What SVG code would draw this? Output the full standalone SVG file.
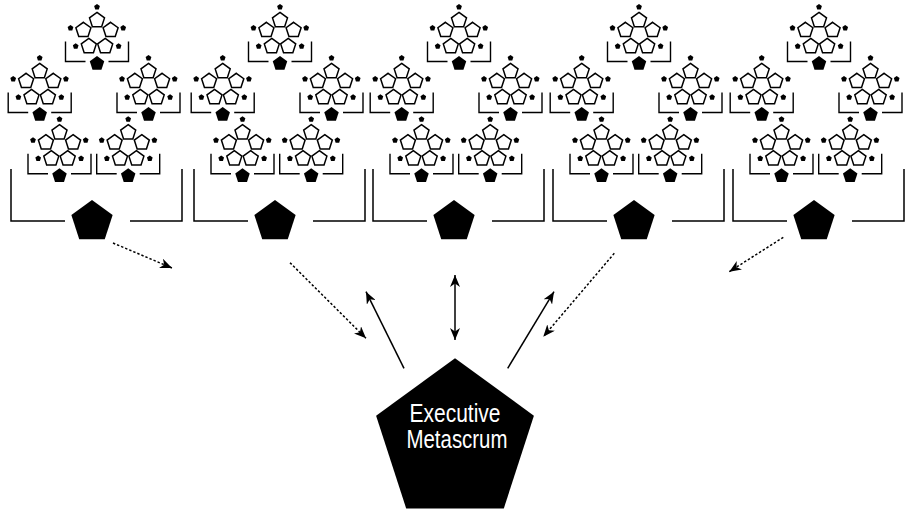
<svg xmlns="http://www.w3.org/2000/svg" xmlns:xlink="http://www.w3.org/1999/xlink" width="907" height="511" viewBox="0 0 907 511">
  <style>
    .ring { fill: #fff; stroke: #000; stroke-width: 1.5; stroke-linejoin: miter; }
    .solid { fill: #000; stroke: none; }
    .bracket { fill: none; stroke: #000; stroke-width: 1.4; }
    .bigbracket { fill: none; stroke: #000; stroke-width: 1.5; }
    .link { fill: none; stroke: #000; stroke-width: 1.5; }
    .dotted { stroke-dasharray: 2.4 2; }
    .label { font-family: "Liberation Sans Narrow", "Liberation Sans", Arial, sans-serif; font-size: 25px; fill: #fff; text-anchor: middle; }
  </style>
  <defs>
    <!-- team pentagon (outline) -->
    <path id="op" class="ring" d="M0,-7.9 L7.51,-2.44 L4.64,6.39 L-4.64,6.39 L-7.51,-2.44Z"/>
    <!-- small member dot -->
    <path id="dot" class="solid" d="M0,-3 L2.85,-0.93 L1.76,2.43 L-1.76,2.43 L-2.85,-0.93Z"/>
    <!-- scrum-of-scrums pentagon -->
    <path id="mid" class="solid" d="M0,-7.6 L7.23,-2.35 L4.47,6.15 L-4.47,6.15 L-7.23,-2.35Z"/>
    <!-- metascrum pentagon -->
    <path id="big" class="solid" d="M0,-21.7 L20.64,-6.71 L12.76,17.56 L-12.76,17.56 L-20.64,-6.71Z"/>
    <!-- one scrum of scrums: five teams, members, bracket -->
    <g id="icon">
      <use href="#op" x="0" y="-14.2"/>
      <use href="#op" x="-13.6" y="-4.3"/>
      <use href="#op" x="13.6" y="-4.3"/>
      <use href="#op" x="-8.2" y="11.8"/>
      <use href="#op" x="8.2" y="11.8"/>
      <use href="#dot" x="0" y="-27.5"/>
      <use href="#dot" x="-26.5" y="-6.5"/>
      <use href="#dot" x="26.2" y="-6.5"/>
      <use href="#dot" x="-21.3" y="11.7"/>
      <use href="#dot" x="21.6" y="11.7"/>
      <path class="bracket" d="M-31.5,7 V27 H-11.5 M11.5,27 H31.5 V7"/>
      <use href="#mid" x="0" y="29"/>
    </g>
    <!-- a group of five scrums of scrums under one metascrum -->
    <g id="cluster">
      <use href="#icon" x="0" y="34.5"/>
      <use href="#icon" x="-57.3" y="85.5"/>
      <use href="#icon" x="51.5" y="85.5"/>
      <use href="#icon" x="-37.5" y="146.8"/>
      <use href="#icon" x="31.2" y="146.8"/>
      <path class="bigbracket" d="M-86,169 V221 H-32 M33,221 H85 V169"/>
      <use href="#big" x="-5" y="221.7"/>
    </g>
    <marker id="head" viewBox="0 0 12 10" refX="12" refY="5" markerWidth="12" markerHeight="10" markerUnits="userSpaceOnUse" orient="auto-start-reverse">
      <path d="M0,0 L12,5 L0,10 L3.5,5Z" fill="#000"/>
    </marker>
  </defs>

  <g id="metascrum-1"><use href="#cluster" x="97" y="0"/></g>
  <g id="metascrum-2"><use href="#cluster" x="280" y="0"/></g>
  <g id="metascrum-3"><use href="#cluster" x="459" y="0"/></g>
  <g id="metascrum-4"><use href="#cluster" x="639" y="0"/></g>
  <g id="metascrum-5"><use href="#cluster" x="819" y="0"/></g>

  <g id="executive-metascrum">
    <path class="solid" d="M455,358.3 L533.9,415.7 L503.8,508.5 L406.2,508.5 L376.1,415.7Z"/>
    <text class="label" x="455" y="421.5" textLength="91" lengthAdjust="spacingAndGlyphs">Executive</text>
    <text class="label" x="457" y="447.5" textLength="101" lengthAdjust="spacingAndGlyphs">Metascrum</text>
  </g>

  <g id="connectors">
    <line class="link dotted" x1="113" y1="243" x2="172" y2="268" marker-end="url(#head)"/>
    <line class="link dotted" x1="290" y1="262.7" x2="366" y2="338.3" marker-end="url(#head)"/>
    <line class="link" x1="404" y1="368.3" x2="366" y2="291.7" marker-end="url(#head)"/>
    <line class="link" x1="455" y1="340" x2="455" y2="275" marker-start="url(#head)" marker-end="url(#head)"/>
    <line class="link" x1="507.7" y1="368.3" x2="554" y2="291.7" marker-end="url(#head)"/>
    <line class="link dotted" x1="614.3" y1="253.3" x2="543.3" y2="336.7" marker-end="url(#head)"/>
    <line class="link dotted" x1="783.3" y1="237.3" x2="729.3" y2="271.7" marker-end="url(#head)"/>
  </g>
</svg>
